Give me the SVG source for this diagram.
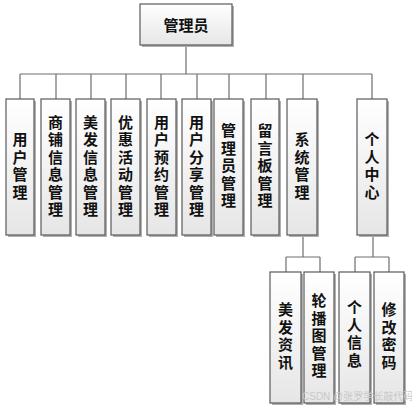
<svg xmlns="http://www.w3.org/2000/svg" width="412" height="412" viewBox="0 0 412 412">
<defs>
<linearGradient id="g" x1="0" y1="0" x2="0" y2="1">
<stop offset="0" stop-color="#ffffff"/>
<stop offset="1" stop-color="#e6e6e6"/>
</linearGradient>
</defs>
<style>
.box{fill:url(#g);stroke:#5a5a5a;stroke-width:1.2}
.sh{fill:#b0b0b0}
.ln{stroke:#6e6e6e;stroke-width:1.2;fill:none}
.t{font-family:"Noto Sans CJK SC","Noto Sans",sans-serif;font-size:15px;font-weight:bold;fill:#111;text-anchor:middle}
.v{writing-mode:vertical-rl;letter-spacing:2.5px}
.wm{font-family:"Liberation Sans","Noto Sans CJK SC",sans-serif;font-size:10px;fill:#c8c8c8}
</style>
<rect width="412" height="412" fill="#ffffff"/>
<g id="connectors">
<path class="ln" d="M186 45V74M20 74H372M20 74V99M56 74V99M91 74V99M126 74V99M161 74V99M197 74V99M229 74V99M266 74V99M303 74V99M372 74V99"/>
<path class="ln" d="M303 235V257M286 257H320M286 257V272M320 257V272"/>
<path class="ln" d="M373 235V257M355 257H389M355 257V272M389 257V272"/>
</g>
<g id="n0"><rect class="sh" x="142" y="6" width="92" height="41"/><rect class="box" x="140" y="4" width="92" height="41"/><text class="t" x="186" y="31" font-size="16">管理员</text></g>
<g id="n1"><rect class="sh" x="8" y="101" width="28" height="136"/><rect class="box" x="6" y="99" width="28" height="136"/><text class="t v" x="20" y="167">用户管理</text></g>
<g id="n2"><rect class="sh" x="43" y="101" width="29" height="136"/><rect class="box" x="41" y="99" width="29" height="136"/><text class="t v" x="55.5" y="167">商铺信息管理</text></g>
<g id="n3"><rect class="sh" x="78" y="101" width="29" height="136"/><rect class="box" x="76" y="99" width="29" height="136"/><text class="t v" x="90.5" y="167">美发信息管理</text></g>
<g id="n4"><rect class="sh" x="113" y="101" width="29" height="136"/><rect class="box" x="111" y="99" width="29" height="136"/><text class="t v" x="125.5" y="167">优惠活动管理</text></g>
<g id="n5"><rect class="sh" x="149" y="101" width="29" height="136"/><rect class="box" x="147" y="99" width="29" height="136"/><text class="t v" x="161.5" y="167">用户预约管理</text></g>
<g id="n6"><rect class="sh" x="184" y="101" width="29" height="136"/><rect class="box" x="182" y="99" width="29" height="136"/><text class="t v" x="196.5" y="167">用户分享管理</text></g>
<g id="n7"><rect class="sh" x="216" y="101" width="29" height="136"/><rect class="box" x="214" y="99" width="29" height="136"/><text class="t v" x="228.5" y="167">管理员管理</text></g>
<g id="n8"><rect class="sh" x="253" y="101" width="28" height="136"/><rect class="box" x="251" y="99" width="28" height="136"/><text class="t v" x="265" y="167">留言板管理</text></g>
<g id="n9"><rect class="sh" x="289" y="101" width="30" height="136"/><rect class="box" x="287" y="99" width="30" height="136"/><text class="t v" x="302" y="167">系统管理</text></g>
<g id="n10"><rect class="sh" x="359" y="101" width="30" height="136"/><rect class="box" x="357" y="99" width="30" height="136"/><text class="t v" x="372" y="167">个人中心</text></g>
<g id="n11"><rect class="sh" x="272" y="274" width="31" height="131"/><rect class="box" x="270" y="272" width="31" height="131"/><text class="t v" x="285.5" y="337">美发资讯</text></g>
<g id="n12"><rect class="sh" x="306" y="274" width="30" height="131"/><rect class="box" x="304" y="272" width="30" height="131"/><text class="t v" x="319" y="337">轮播图管理</text></g>
<g id="n13"><rect class="sh" x="341" y="274" width="31" height="131"/><rect class="box" x="339" y="272" width="31" height="131"/><text class="t v" x="354.5" y="335">个人信息</text></g>
<g id="n14"><rect class="sh" x="376" y="274" width="30" height="131"/><rect class="box" x="374" y="272" width="30" height="131"/><text class="t v" x="389" y="337">修改密码</text></g>
<text class="wm" x="302" y="400">CSDN @张罗学长敲代码</text>
</svg>
